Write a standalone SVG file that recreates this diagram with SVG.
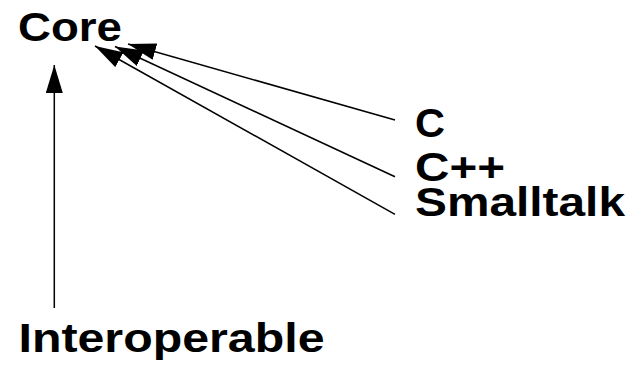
<svg xmlns="http://www.w3.org/2000/svg" width="629" height="365" viewBox="0 0 629 365">
<style>
.lbl{font-family:"Liberation Sans",Arial,sans-serif;font-weight:bold;font-size:40px;fill:#000}
.edge{stroke:#000;stroke-width:1.5;fill:none;marker-end:url(#ah)}
</style>
<defs>
<marker id="ah" markerUnits="userSpaceOnUse" markerWidth="28" markerHeight="17" refX="28" refY="8.5" orient="auto">
<path d="M0,0 L28,8.5 L0,17 z" fill="#000"/>
</marker>
</defs>
<rect width="629" height="365" fill="#fff"/>
<g id="connectors">
<line class="edge" x1="54.3" y1="308" x2="54.3" y2="65"/>
<line class="edge" x1="395" y1="120" x2="128" y2="44"/>
<line class="edge" x1="395" y1="176.7" x2="115" y2="46.5"/>
<line class="edge" x1="395" y1="214.3" x2="95" y2="46"/>
</g>
<g id="core"><text class="lbl" x="18" y="40.5" textLength="104" lengthAdjust="spacingAndGlyphs">Core</text></g>
<g id="c"><text class="lbl" x="415" y="137" textLength="30" lengthAdjust="spacingAndGlyphs">C</text></g>
<g id="cpp"><text class="lbl" x="415" y="180.5" textLength="90" lengthAdjust="spacingAndGlyphs">C++</text></g>
<g id="smalltalk"><text class="lbl" x="415" y="216" textLength="210" lengthAdjust="spacingAndGlyphs">Smalltalk</text></g>
<g id="interoperable"><text class="lbl" x="18.5" y="351.5" textLength="306" lengthAdjust="spacingAndGlyphs">Interoperable</text></g>
</svg>
